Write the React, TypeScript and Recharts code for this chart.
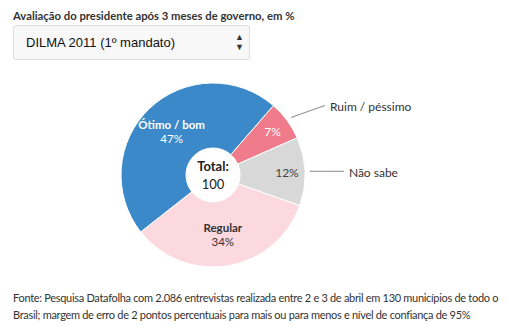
import { PieChart, Pie, Cell } from 'recharts';

const categories = ['Ruim / péssimo', 'Não sabe', 'Regular', 'Ótimo / bom'];
const values = [7, 12, 34, 47];
const colors = ['#ef7b8b', '#d8d8d8', '#fcd9de', '#3b89c9'];
const labelColors = ['#ffffff', '#444444', '#333333', '#ffffff'];
const outsideLabel = [true, true, false, false];
const total = 100;
const footerLines = [
  'Fonte: Pesquisa Datafolha com 2.086 entrevistas realizada entre 2 e 3 de abril em 130 municípios de todo o',
  'Brasil; margem de erro de 2 pontos percentuais para mais ou para menos e nível de confiança de 95%',
];

const data = categories.map((name, i) => ({ name, value: values[i] }));

const FONT = 'Lato, "Noto Sans", sans-serif';
const RAD = Math.PI / 180;

const renderLabel = (props: any) => {
  const { cx, cy, midAngle, outerRadius, index, percent } = props;
  const cos = Math.cos(-midAngle * RAD);
  const sin = Math.sin(-midAngle * RAD);
  const r = percent < 0.15 ? outerRadius - 18 : 60;
  const x = cx + r * cos;
  const y = cy + r * sin;
  const items = [];
  if (index === 0) {
    // total in the hole
    items.push(
      <text key="t1" x={cx} y={cy - 9} textAnchor="middle" dominantBaseline="central" fontSize={13} fontWeight="bold" fill="#222" fontFamily={FONT}>
        Total:
      </text>
    );
    items.push(
      <text key="t2" x={cx} y={cy + 9} textAnchor="middle" dominantBaseline="central" fontSize={13} fill="#222" fontFamily={FONT}>
        {total}
      </text>
    );
  }
  if (outsideLabel[index]) {
    items.push(
      <text key="v" x={x} y={y} textAnchor="middle" dominantBaseline="central" fill={labelColors[index]} fontSize={12} fontFamily={FONT}>
        {values[index]}%
      </text>
    );
    const sx = cx + (outerRadius + 5) * cos;
    const sy = cy + (outerRadius + 5) * sin;
    const ex = sx + 34;
    const ey = sy + (sin < -0.3 ? -12 : 0);
    items.push(<path key="l" d={`M${sx},${sy}L${ex},${ey}`} stroke="#888" strokeWidth={1} fill="none" />);
    items.push(
      <text key="n" x={ex + 5} y={ey + 1} textAnchor="start" dominantBaseline="central" fill="#333" fontSize={12} fontFamily={FONT}>
        {categories[index]}
      </text>
    );
  } else {
    items.push(
      <text key="n" x={x} y={y - 7} textAnchor="middle" dominantBaseline="central" fill={labelColors[index]} fontSize={11.5} fontWeight="bold" fontFamily={FONT}>
        {categories[index]}
      </text>
    );
    items.push(
      <text key="v" x={x} y={y + 7} textAnchor="middle" dominantBaseline="central" fill={labelColors[index]} fontSize={11.5} fontFamily={FONT}>
        {values[index]}%
      </text>
    );
  }
  return <g>{items}</g>;
};

export default function App() {
  return (
    <div style={{ position: 'absolute', left: 0, top: 0, width: 508, height: 326, background: '#fff', fontFamily: FONT }}>
      <div style={{ position: 'absolute', left: 13, top: 9, fontSize: 11.3, fontWeight: 'bold', color: '#333', whiteSpace: 'nowrap' }}>
        Avaliação do presidente após 3 meses de governo, em %
      </div>
      <div
        style={{
          position: 'absolute',
          left: 13,
          top: 25,
          width: 237,
          height: 35,
          border: '1px solid #ddd',
          borderRadius: 3,
          background: '#f8f8f8',
          fontFamily: '"Liberation Sans", Arial, sans-serif',
          fontSize: 13,
          color: '#111',
          boxSizing: 'border-box',
        }}
      >
        <span style={{ position: 'absolute', left: 12, top: 9 }}>DILMA 2011 (1º mandato)</span>
        <span style={{ position: 'absolute', left: 221, top: 6, fontSize: 9, lineHeight: '10px', color: '#333' }}>
          ▲<br />▼
        </span>
      </div>
      <div style={{ position: 'absolute', left: 0, top: 0 }}>
        <PieChart width={508} height={326}>
          <Pie
            data={data}
            dataKey="value"
            nameKey="name"
            cx={208}
            cy={170}
            innerRadius={27}
            outerRadius={92}
            startAngle={49}
            endAngle={-311}
            stroke="#fff"
            strokeWidth={1}
            label={renderLabel}
            labelLine={false}
            isAnimationActive={false}
          >
            {data.map((d, i) => (
              <Cell key={d.name} fill={colors[i]} />
            ))}
          </Pie>
        </PieChart>
      </div>
      <div style={{ position: 'absolute', left: 13, top: 289, fontSize: 11, lineHeight: '17px', color: '#333', whiteSpace: 'nowrap', letterSpacing: -0.3 }}>
        {footerLines.map((l) => (
          <div key={l}>{l}</div>
        ))}
      </div>
    </div>
  );
}
